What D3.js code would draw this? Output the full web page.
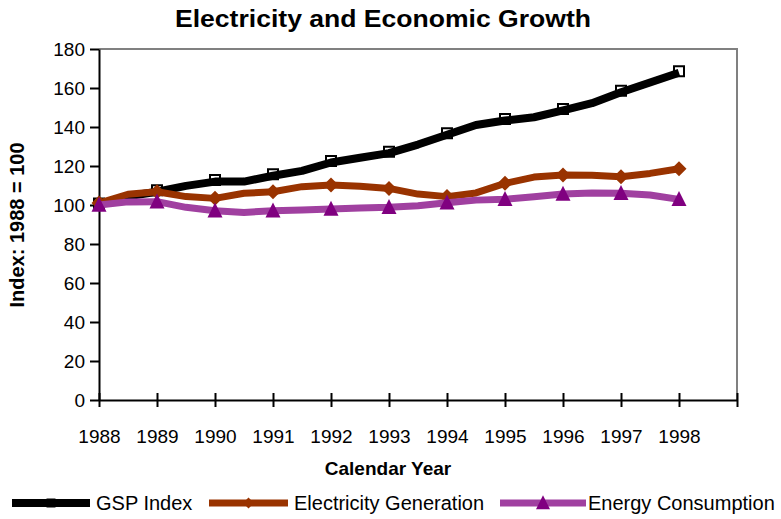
<!DOCTYPE html>
<html>
<head>
<meta charset="utf-8">
<script src="https://cdn.jsdelivr.net/npm/d3@7"></script>
<style>
  body { margin: 0; background: #fff; }
  svg { display: block; font-family: "Liberation Sans", Arial, sans-serif; }
</style>
</head>
<body>
<svg id="chart" width="781" height="519"></svg>
<script>
// Half-year observations, index 1988 = 100
const periods = [1988, 1988.5, 1989, 1989.5, 1990, 1990.5, 1991, 1991.5, 1992, 1992.5,
                 1993, 1993.5, 1994, 1994.5, 1995, 1995.5, 1996, 1996.5, 1997, 1997.5, 1998];
const gspIndex = [100, 104.5, 106.8, 109.8, 112, 112, 115, 117.5, 121.8, 124.2,
                  126.6, 131, 136, 141, 143.3, 145, 148.5, 152.2, 157.8, 162.8, 167.8];
const electricityGeneration = [101, 105.5, 106.8, 104.3, 103.4, 106, 106.8, 109.4, 110.3, 109.6,
                               108.5, 105.6, 104.3, 106.2, 111.1, 114.3, 115.4, 115.3, 114.5, 116.2, 118.6];
const energyConsumption = [100, 101.6, 101.7, 98.8, 97.1, 96.2, 97.1, 97.4, 98, 98.4,
                           98.8, 99.6, 101.2, 102.5, 102.9, 104.2, 105.6, 106.1, 106, 105.1, 102.9];

const yearTicks = d3.range(1988, 2000);            // 1988 … 1999
const yearLabels = d3.range(1988, 1999);           // labelled 1988 … 1998
const valueTicks = d3.range(0, 181, 20);

const seriesNames = ["GSP Index", "Electricity Generation", "Energy Consumption"];
const seriesValues = [gspIndex, electricityGeneration, energyConsumption];

const styles = [
  { line: "#000000", width: 8, marker: "square", fill: "#ffffff", mstroke: "#000000" },
  { line: "#993300", width: 7, marker: "diamond", fill: "#993300", mstroke: "none" },
  { line: "#a040a0", width: 7, marker: "triangle", fill: "#800080", mstroke: "none" }
];

const svg = d3.select("#chart");
const plot = { left: 99, right: 737, top: 49, bottom: 400 };

const x = d3.scaleLinear().domain([1988, 1999]).range([plot.left, plot.right]);
const y = d3.scaleLinear().domain([0, 180]).range([plot.bottom, plot.top]);

// Title
svg.append("text")
  .attr("x", 383).attr("y", 27)
  .attr("text-anchor", "middle")
  .attr("font-size", 24).attr("font-weight", "bold")
  .attr("textLength", 416).attr("lengthAdjust", "spacingAndGlyphs")
  .text("Electricity and Economic Growth");

// Plot frame (top and right edges in grey)
svg.append("path")
  .attr("d", `M${plot.left},${plot.top}H${plot.right}V${plot.bottom}`)
  .attr("fill", "none").attr("stroke", "#808080").attr("stroke-width", 2);

// Y axis
const yAxis = svg.append("g")
  .attr("transform", `translate(${plot.left},0)`)
  .call(d3.axisLeft(y).tickValues(valueTicks).tickSize(9).tickPadding(5).tickSizeOuter(0));
yAxis.select(".domain").attr("stroke", "#000").attr("stroke-width", 2);
yAxis.selectAll(".tick line").attr("stroke", "#000").attr("stroke-width", 2);
yAxis.selectAll(".tick text").attr("font-size", 19).attr("fill", "#000")
  .attr("font-family", "Liberation Sans, Arial, sans-serif");

// X axis with ticks crossing the line
const xAxis = svg.append("g")
  .attr("transform", `translate(0,${plot.bottom})`)
  .call(d3.axisBottom(x).tickValues(yearTicks).tickSize(0).tickPadding(0).tickSizeOuter(0)
    .tickFormat(d => yearLabels.includes(d) ? String(d) : ""));
xAxis.select(".domain").attr("stroke", "#000").attr("stroke-width", 2);
xAxis.selectAll(".tick line").attr("y1", -7).attr("y2", 7)
  .attr("stroke", "#000").attr("stroke-width", 2);
xAxis.selectAll(".tick text").attr("font-size", 19).attr("fill", "#000")
  .attr("font-family", "Liberation Sans, Arial, sans-serif")
  .attr("dy", 0).attr("y", 43);

// Axis titles
svg.append("text")
  .attr("transform", "translate(24,225) rotate(-90)")
  .attr("text-anchor", "middle")
  .attr("font-size", 20).attr("font-weight", "bold")
  .text("Index: 1988 = 100");

svg.append("text")
  .attr("x", 388).attr("y", 475)
  .attr("text-anchor", "middle")
  .attr("font-size", 19).attr("font-weight", "bold")
  .text("Calendar Year");

// Marker shapes
function markerPath(kind, s) {
  if (kind === "square") return `M${-s/2},${-s/2}h${s}v${s}h${-s}Z`;
  if (kind === "diamond") return `M0,${-s/2}L${s/2},0L0,${s/2}L${-s/2},0Z`;
  return `M0,${-s*0.55}L${s/2},${s*0.45}L${-s/2},${s*0.45}Z`;
}
const markerSize = { square: 10, diamond: 15, triangle: 15 };

const line = d3.line().x((d, i) => x(periods[i])).y(d => y(d));

// Draw series in order: GSP at the bottom, energy consumption on top
[0, 1, 2].forEach(k => {
  const st = styles[k];
  const vals = seriesValues[k];
  const g = svg.append("g");
  const yearly = vals.map((v, i) => ({ t: periods[i], v })).filter(d => Number.isInteger(d.t));
  if (st.marker === "square") {
    g.selectAll("path.m").data(yearly).join("path").attr("class", "m")
      .attr("d", markerPath("square", markerSize.square))
      .attr("transform", d => `translate(${x(d.t)},${y(d.v) - 1.5})`)
      .attr("fill", st.fill).attr("stroke", st.mstroke).attr("stroke-width", 2);
  }
  g.append("path").datum(vals)
    .attr("d", line)
    .attr("fill", "none").attr("stroke", st.line)
    .attr("stroke-width", st.width).attr("stroke-linejoin", "round");
  if (st.marker !== "square") {
    g.selectAll("path.m").data(yearly).join("path").attr("class", "m")
      .attr("d", markerPath(st.marker, markerSize[st.marker]))
      .attr("transform", d => `translate(${x(d.t)},${y(d.v)})`)
      .attr("fill", st.fill);
  }
});

// Legend
const legendItems = [
  { x0: 12, x1: 90, tx: 96 },
  { x0: 209, x1: 288, tx: 294 },
  { x0: 500, x1: 586, tx: 588 }
];
const ly = 503;
legendItems.forEach((it, k) => {
  const st = styles[k];
  svg.append("line").attr("x1", it.x0).attr("x2", it.x1).attr("y1", ly).attr("y2", ly)
    .attr("stroke", st.line).attr("stroke-width", st.width);
  const cx = (it.x0 + it.x1) / 2;
  if (st.marker === "square") {
    svg.append("path").attr("d", markerPath("square", 9))
      .attr("transform", `translate(${cx},${ly})`).attr("fill", "#000");
  } else {
    svg.append("path").attr("d", markerPath(st.marker, st.marker === "diamond" ? 11 : 14))
      .attr("transform", `translate(${cx},${ly})`).attr("fill", st.fill);
  }
  svg.append("text").attr("x", it.tx).attr("y", ly + 7)
    .attr("font-size", 20).text(seriesNames[k]);
});
</script>
</body>
</html>
